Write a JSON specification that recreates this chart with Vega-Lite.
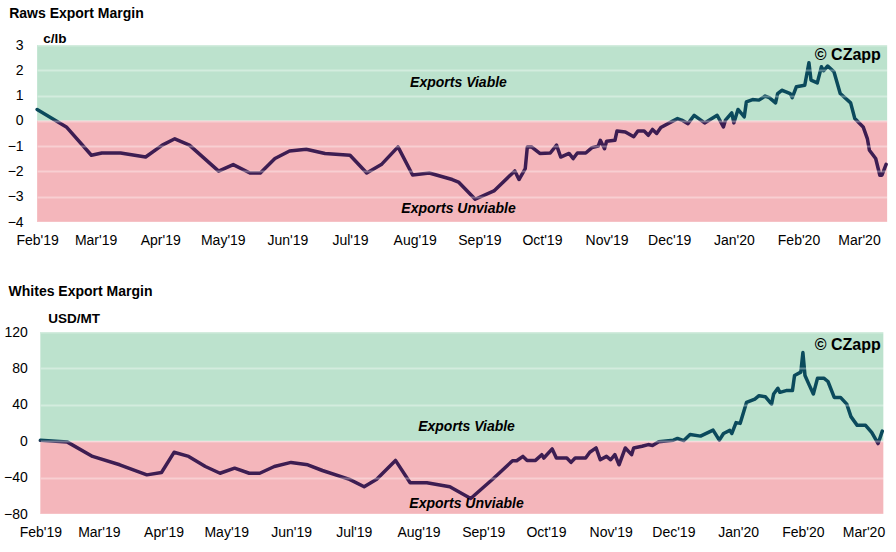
{
  "$schema": "https://vega.github.io/schema/vega-lite/v6.json",
  "background": "white",
  "padding": {"left": 3, "top": 7, "right": 5, "bottom": 4},
  "spacing": 38,
  "center": true,
  "config": {
    "view": {"stroke": null},
    "font": "Liberation Sans",
    "axis": {"labelFont": "Liberation Sans", "labelColor": "#000", "labelFontSize": 14, "ticks": false, "domain": false},
    "title": {"font": "Liberation Sans", "fontSize": 14, "fontWeight": "bold", "color": "#000", "anchor": "start", "frame": "bounds"}
  },
  "datasets": {
    "raws": [
      {"date": "2019-02-01", "value": 0.45}, {"date": "2019-02-15", "value": -0.24}, {"date": "2019-02-27", "value": -1.36},
      {"date": "2019-03-04", "value": -1.27}, {"date": "2019-03-13", "value": -1.27}, {"date": "2019-03-25", "value": -1.43},
      {"date": "2019-04-02", "value": -0.96}, {"date": "2019-04-08", "value": -0.71}, {"date": "2019-04-15", "value": -0.96},
      {"date": "2019-04-29", "value": -1.99}, {"date": "2019-05-06", "value": -1.73}, {"date": "2019-05-14", "value": -2.06},
      {"date": "2019-05-19", "value": -2.06}, {"date": "2019-05-26", "value": -1.49}, {"date": "2019-06-02", "value": -1.19},
      {"date": "2019-06-10", "value": -1.12}, {"date": "2019-06-19", "value": -1.29}, {"date": "2019-07-01", "value": -1.36},
      {"date": "2019-07-09", "value": -2.06}, {"date": "2019-07-16", "value": -1.73}, {"date": "2019-07-24", "value": -1.03},
      {"date": "2019-07-31", "value": -2.14}, {"date": "2019-08-08", "value": -2.06}, {"date": "2019-08-19", "value": -2.32},
      {"date": "2019-08-22", "value": -2.42}, {"date": "2019-08-30", "value": -3.1}, {"date": "2019-09-08", "value": -2.77},
      {"date": "2019-09-18", "value": -1.98}, {"date": "2019-09-20", "value": -2.32}, {"date": "2019-09-23", "value": -1.89},
      {"date": "2019-09-24", "value": -1.03}, {"date": "2019-09-26", "value": -1.03}, {"date": "2019-09-30", "value": -1.29},
      {"date": "2019-10-05", "value": -1.27}, {"date": "2019-10-08", "value": -0.96}, {"date": "2019-10-10", "value": -1.43},
      {"date": "2019-10-14", "value": -1.29}, {"date": "2019-10-16", "value": -1.49}, {"date": "2019-10-18", "value": -1.27},
      {"date": "2019-10-22", "value": -1.27}, {"date": "2019-10-25", "value": -1.06}, {"date": "2019-10-28", "value": -1.0},
      {"date": "2019-10-29", "value": -0.77}, {"date": "2019-10-31", "value": -1.1}, {"date": "2019-11-01", "value": -0.81},
      {"date": "2019-11-05", "value": -0.77}, {"date": "2019-11-06", "value": -0.4}, {"date": "2019-11-10", "value": -0.44},
      {"date": "2019-11-14", "value": -0.63}, {"date": "2019-11-16", "value": -0.4}, {"date": "2019-11-19", "value": -0.4},
      {"date": "2019-11-21", "value": -0.57}, {"date": "2019-11-23", "value": -0.34}, {"date": "2019-11-25", "value": -0.5},
      {"date": "2019-11-27", "value": -0.26}, {"date": "2019-12-02", "value": -0.04}, {"date": "2019-12-05", "value": 0.09},
      {"date": "2019-12-07", "value": 0.03}, {"date": "2019-12-10", "value": -0.11}, {"date": "2019-12-13", "value": 0.22},
      {"date": "2019-12-18", "value": -0.08}, {"date": "2019-12-24", "value": 0.22}, {"date": "2019-12-27", "value": -0.24},
      {"date": "2019-12-28", "value": 0.03}, {"date": "2019-12-31", "value": 0.32}, {"date": "2020-01-01", "value": -0.08},
      {"date": "2020-01-03", "value": 0.45}, {"date": "2020-01-06", "value": 0.16}, {"date": "2020-01-07", "value": 0.75},
      {"date": "2020-01-10", "value": 0.84}, {"date": "2020-01-13", "value": 0.82}, {"date": "2020-01-16", "value": 0.98},
      {"date": "2020-01-18", "value": 0.92}, {"date": "2020-01-21", "value": 0.71}, {"date": "2020-01-22", "value": 1.08},
      {"date": "2020-01-24", "value": 1.21}, {"date": "2020-01-26", "value": 1.15}, {"date": "2020-01-28", "value": 1.08},
      {"date": "2020-01-29", "value": 0.92}, {"date": "2020-01-31", "value": 1.35}, {"date": "2020-02-04", "value": 1.41},
      {"date": "2020-02-06", "value": 2.3}, {"date": "2020-02-07", "value": 1.61}, {"date": "2020-02-10", "value": 1.5},
      {"date": "2020-02-12", "value": 2.14}, {"date": "2020-02-13", "value": 1.98}, {"date": "2020-02-15", "value": 2.17},
      {"date": "2020-02-18", "value": 1.94}, {"date": "2020-02-21", "value": 1.08}, {"date": "2020-02-26", "value": 0.71},
      {"date": "2020-02-28", "value": 0.09}, {"date": "2020-03-03", "value": -0.24}, {"date": "2020-03-05", "value": -0.7},
      {"date": "2020-03-06", "value": -1.16}, {"date": "2020-03-09", "value": -1.49}, {"date": "2020-03-11", "value": -2.15},
      {"date": "2020-03-12", "value": -2.15}, {"date": "2020-03-14", "value": -1.72}
    ],
    "whites": [
      {"date": "2019-02-01", "value": 1}, {"date": "2019-02-14", "value": -1}, {"date": "2019-02-26", "value": -16.7},
      {"date": "2019-03-11", "value": -25.9}, {"date": "2019-03-24", "value": -37}, {"date": "2019-03-31", "value": -34.4},
      {"date": "2019-04-06", "value": -12.2}, {"date": "2019-04-13", "value": -16.7}, {"date": "2019-04-21", "value": -27.8},
      {"date": "2019-04-28", "value": -35.2}, {"date": "2019-05-05", "value": -29.6}, {"date": "2019-05-12", "value": -35.2},
      {"date": "2019-05-17", "value": -35.2}, {"date": "2019-05-24", "value": -27.8}, {"date": "2019-06-01", "value": -23.3},
      {"date": "2019-06-09", "value": -25.9}, {"date": "2019-06-16", "value": -32.2}, {"date": "2019-06-29", "value": -41.9},
      {"date": "2019-07-06", "value": -50}, {"date": "2019-07-12", "value": -41.9}, {"date": "2019-07-21", "value": -21.1},
      {"date": "2019-07-28", "value": -45.6}, {"date": "2019-08-05", "value": -45.6}, {"date": "2019-08-16", "value": -50},
      {"date": "2019-08-26", "value": -63}, {"date": "2019-09-06", "value": -40.7}, {"date": "2019-09-15", "value": -21.5},
      {"date": "2019-09-17", "value": -21.5}, {"date": "2019-09-20", "value": -16.7}, {"date": "2019-09-22", "value": -21.1},
      {"date": "2019-09-26", "value": -21.1}, {"date": "2019-09-29", "value": -14.8}, {"date": "2019-09-30", "value": -18.5},
      {"date": "2019-10-04", "value": -8.5}, {"date": "2019-10-06", "value": -18.5}, {"date": "2019-10-11", "value": -18.5},
      {"date": "2019-10-13", "value": -23.3}, {"date": "2019-10-15", "value": -18.5}, {"date": "2019-10-20", "value": -18.5},
      {"date": "2019-10-22", "value": -12.2}, {"date": "2019-10-25", "value": -7.4}, {"date": "2019-10-27", "value": -20.4},
      {"date": "2019-10-30", "value": -16.7}, {"date": "2019-11-01", "value": -20.4}, {"date": "2019-11-03", "value": -14.8},
      {"date": "2019-11-05", "value": -25.9}, {"date": "2019-11-08", "value": -7.4}, {"date": "2019-11-11", "value": -14.8},
      {"date": "2019-11-12", "value": -7.4}, {"date": "2019-11-16", "value": -5.6}, {"date": "2019-11-19", "value": -3.7},
      {"date": "2019-11-21", "value": -4.8}, {"date": "2019-11-24", "value": -0.7}, {"date": "2019-12-01", "value": 1.1},
      {"date": "2019-12-03", "value": 3}, {"date": "2019-12-06", "value": 0.7}, {"date": "2019-12-09", "value": 7.4},
      {"date": "2019-12-14", "value": 5.6}, {"date": "2019-12-20", "value": 12.2}, {"date": "2019-12-23", "value": 1.1},
      {"date": "2019-12-25", "value": 8.5}, {"date": "2019-12-28", "value": 11.9}, {"date": "2019-12-29", "value": 8.5},
      {"date": "2019-12-31", "value": 20.4}, {"date": "2020-01-02", "value": 19.6}, {"date": "2020-01-05", "value": 42.6},
      {"date": "2020-01-09", "value": 46.3}, {"date": "2020-01-11", "value": 50}, {"date": "2020-01-14", "value": 48.9},
      {"date": "2020-01-17", "value": 40.7}, {"date": "2020-01-18", "value": 51.9}, {"date": "2020-01-20", "value": 58.2},
      {"date": "2020-01-21", "value": 53.7}, {"date": "2020-01-24", "value": 55.6}, {"date": "2020-01-27", "value": 55.6},
      {"date": "2020-01-28", "value": 72.2}, {"date": "2020-01-31", "value": 75.9}, {"date": "2020-02-01", "value": 97.4},
      {"date": "2020-02-02", "value": 72.2}, {"date": "2020-02-04", "value": 61.9}, {"date": "2020-02-06", "value": 51.9},
      {"date": "2020-02-08", "value": 69.3}, {"date": "2020-02-11", "value": 69.3}, {"date": "2020-02-13", "value": 65.6},
      {"date": "2020-02-16", "value": 48.1}, {"date": "2020-02-19", "value": 48.1}, {"date": "2020-02-22", "value": 40.7},
      {"date": "2020-02-24", "value": 27}, {"date": "2020-02-27", "value": 17.4}, {"date": "2020-03-02", "value": 17.4},
      {"date": "2020-03-05", "value": 9.3}, {"date": "2020-03-08", "value": -2.6}, {"date": "2020-03-10", "value": 11.1}
    ]
  },
  "vconcat": [
    {
      "title": {"text": "Raws Export Margin", "offset": 10, "dx": 2},
      "width": 850,
      "height": 177,
      "layer": [
        {
          "data": {"values": [{"zone": "Viable", "lo": 0, "hi": 3}, {"zone": "Unviable", "lo": -4, "hi": 0}]},
          "mark": {"type": "rect"},
          "encoding": {
            "y": {"field": "lo", "type": "quantitative", "scale": {"domain": [-4, 3], "nice": false},
              "axis": {"values": [-4, -3, -2, -1, 0, 1, 2, 3], "tickCount": 12, "format": "d", "labelOverlap": false, "grid": true, "gridColor": "#ffffff", "gridOpacity": 0.35, "gridWidth": 2,
                "labelPadding": 14, "zindex": 1,
                "title": "c/lb", "titleAngle": 0, "titleX": 5.5, "titleY": -3, "titleAlign": "left", "titleBaseline": "alphabetic",
                "titleFontSize": 13.5, "titleFontWeight": "bold", "titleColor": "#000", "titleFont": "Liberation Sans"}},
            "y2": {"field": "hi"},
            "color": {"field": "zone", "type": "nominal", "scale": {"domain": ["Viable", "Unviable"], "range": ["#bce2cd", "#f4b6bb"]}, "legend": null}
          }
        },
        {
          "data": {"name": "raws"},
          "mark": {"type": "line", "strokeWidth": 3.5, "strokeJoin": "round", "strokeCap": "round",
            "color": {"gradient": "linear", "x1": 0, "y1": 0, "x2": 0, "y2": 1,
              "stops": [{"offset": 0, "color": "#0b4a5c"}, {"offset": 0.41, "color": "#0b4a5c"}, {"offset": 0.44, "color": "#3d1d52"}, {"offset": 1, "color": "#3d1d52"}]}},
          "encoding": {
            "x": {"field": "date", "type": "temporal",
              "scale": {"domain": [{"year": 2019, "month": 2, "date": 1, "utc": true}, {"year": 2020, "month": 3, "date": 14, "hours": 12, "utc": true}]},
              "axis": {"format": "%b'%y", "tickCount": {"interval": "month", "step": 1}, "grid": false, "labelPadding": 11,
                "labelOverlap": false, "labelFlush": false, "labelBound": false, "title": null}},
            "y": {"field": "value", "type": "quantitative"}
          }
        },
        {
          "data": {"values": [{"date": "2019-08-22", "value": 1.49, "label": "Exports Viable"}, {"date": "2019-08-22", "value": -3.5, "label": "Exports Unviable"}]},
          "mark": {"type": "text", "fontSize": 14, "fontWeight": "bold", "fontStyle": "italic", "align": "center", "baseline": "middle", "color": "#000"},
          "encoding": {"x": {"field": "date", "type": "temporal"}, "y": {"field": "value", "type": "quantitative"}, "text": {"field": "label"}}
        },
        {
          "data": {"values": [{"date": "2020-03-11T12:00:00Z", "value": 2.6, "label": "© CZapp"}]},
          "mark": {"type": "text", "fontSize": 16, "fontWeight": "bold", "align": "right", "baseline": "middle", "color": "#000"},
          "encoding": {"x": {"field": "date", "type": "temporal"}, "y": {"field": "value", "type": "quantitative"}, "text": {"field": "label"}}
        }
      ]
    },
    {
      "title": {"text": "Whites Export Margin", "offset": 12, "dx": 5},
      "width": 843,
      "height": 182,
      "layer": [
        {
          "data": {"values": [{"zone": "Viable", "lo": 0, "hi": 120}, {"zone": "Unviable", "lo": -80, "hi": 0}]},
          "mark": {"type": "rect"},
          "encoding": {
            "y": {"field": "lo", "type": "quantitative", "scale": {"domain": [-80, 120], "nice": false},
              "axis": {"values": [-80, -40, 0, 40, 80, 120], "tickCount": 12, "format": "d", "labelOverlap": false, "grid": true, "gridColor": "#ffffff", "gridOpacity": 0.35, "gridWidth": 2,
                "labelPadding": 13, "zindex": 1,
                "title": "USD/MT", "titleAngle": 0, "titleX": 7.3, "titleY": -10, "titleAlign": "left", "titleBaseline": "alphabetic",
                "titleFontSize": 13.5, "titleFontWeight": "bold", "titleColor": "#000", "titleFont": "Liberation Sans"}},
            "y2": {"field": "hi"},
            "color": {"field": "zone", "type": "nominal", "scale": {"domain": ["Viable", "Unviable"], "range": ["#bce2cd", "#f4b6bb"]}, "legend": null}
          }
        },
        {
          "data": {"name": "whites"},
          "mark": {"type": "line", "strokeWidth": 3.5, "strokeJoin": "round", "strokeCap": "round",
            "color": {"gradient": "linear", "x1": 0, "y1": 0, "x2": 0, "y2": 1,
              "stops": [{"offset": 0, "color": "#0b4a5c"}, {"offset": 0.595, "color": "#0b4a5c"}, {"offset": 0.62, "color": "#3d1d52"}, {"offset": 1, "color": "#3d1d52"}]}},
          "encoding": {
            "x": {"field": "date", "type": "temporal",
              "scale": {"domain": [{"year": 2019, "month": 2, "date": 1, "utc": true}, {"year": 2020, "month": 3, "date": 10, "hours": 12, "utc": true}]},
              "axis": {"format": "%b'%y", "tickCount": {"interval": "month", "step": 1}, "grid": false, "labelPadding": 11,
                "labelOverlap": false, "labelFlush": false, "labelBound": false, "title": null}},
            "y": {"field": "value", "type": "quantitative"}
          }
        },
        {
          "data": {"values": [{"date": "2019-08-24", "value": 16, "label": "Exports Viable"}, {"date": "2019-08-24", "value": -69, "label": "Exports Unviable"}]},
          "mark": {"type": "text", "fontSize": 14, "fontWeight": "bold", "fontStyle": "italic", "align": "center", "baseline": "middle", "color": "#000"},
          "encoding": {"x": {"field": "date", "type": "temporal"}, "y": {"field": "value", "type": "quantitative"}, "text": {"field": "label"}}
        },
        {
          "data": {"values": [{"date": "2020-03-09T07:00:00Z", "value": 106, "label": "© CZapp"}]},
          "mark": {"type": "text", "fontSize": 16, "fontWeight": "bold", "align": "right", "baseline": "middle", "color": "#000"},
          "encoding": {"x": {"field": "date", "type": "temporal"}, "y": {"field": "value", "type": "quantitative"}, "text": {"field": "label"}}
        }
      ]
    }
  ]
}
